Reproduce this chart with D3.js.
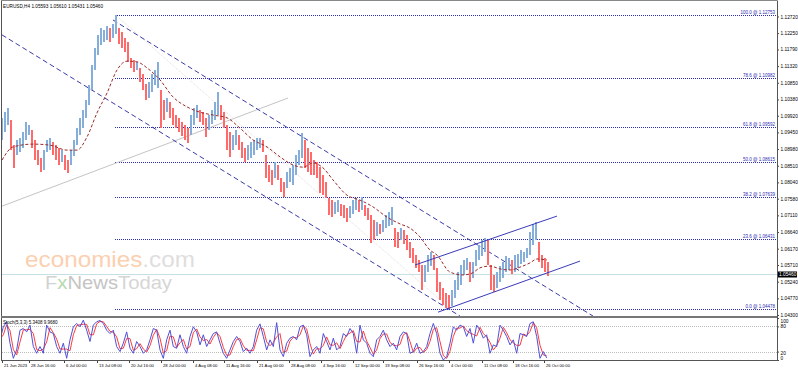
<!DOCTYPE html>
<html><head><meta charset="utf-8">
<script src="https://cdn.jsdelivr.net/npm/d3@7"></script>
<style>
body{margin:0;background:#fff;}
svg{display:block;font-family:"Liberation Sans",Arial,sans-serif;}
</style></head><body>
<svg id="c" width="798" height="372"></svg>
<script>
// ---------- DATA ----------
const chartTitle = "EURUSD,H4  1.05593 1.05610 1.05431 1.05460";
const stochTitle = "Stoch(5,3,3) 5.3408 9.9680";
const barStep = 3; // each entry spans 3 H4 bars
const highs = [
1.0986,1.1003,1.1014,1.0980,1.0909,1.0924,1.0929,1.0946,1.0974,1.0966,
1.0952,1.0924,1.0895,1.0873,1.0895,1.0924,1.0929,1.0918,1.0909,1.0901,
1.0895,1.0881,1.0867,1.0895,1.0924,1.0957,1.0986,1.1008,1.1036,1.1079,
1.1135,1.1183,1.1220,1.1239,1.1234,1.1245,1.1239,1.1251,1.1275,1.1239,
1.1228,1.1211,1.1200,1.1155,1.1149,1.1144,1.1127,1.1110,1.1081,1.1087,
1.1110,1.1121,1.1144,1.1065,1.1036,1.1042,1.1031,1.1014,1.0994,1.0986,
1.0974,1.0966,1.0957,1.0994,1.1014,1.1022,1.1008,1.1003,1.0986,1.0994,
1.1008,1.1031,1.1059,1.1022,1.1003,1.0966,1.0946,1.0938,1.0952,1.0938,
1.0918,1.0901,1.0909,1.0918,1.0924,1.0929,1.0929,1.0924,1.0881,1.0853,
1.0839,1.0861,1.0853,1.0816,1.0805,1.0833,1.0844,1.0853,1.0881,1.0895,
1.0943,1.0924,1.0901,1.0890,1.0867,1.0861,1.0847,1.0825,1.0805,1.0760,
1.0754,1.0749,1.0754,1.0743,1.0740,1.0732,1.0737,1.0754,1.0760,1.0754,
1.0763,1.0740,1.0732,1.0712,1.0698,1.0692,1.0686,1.0698,1.0712,1.0720,
1.0734,1.0675,1.0664,1.0675,1.0670,1.0655,1.0636,1.0619,1.0599,1.0585,
1.0571,1.0571,1.0599,1.0608,1.0599,1.0562,1.0523,1.0506,1.0492,1.0486,
1.0500,1.0529,1.0551,1.0571,1.0585,1.0591,1.0579,1.0579,1.0613,1.0627,
1.0641,1.0647,1.0641,1.0571,1.0543,1.0551,1.0568,1.0579,1.0596,1.0591,
1.0585,1.0599,1.0602,1.0613,1.0608,1.0619,1.0664,1.0686,1.0692,1.0636,
1.0599,1.0591,1.0579];
const lows = [
1.0924,1.0946,1.0966,1.0895,1.0845,1.0881,1.0890,1.0901,1.0924,1.0938,
1.0901,1.0867,1.0853,1.0833,1.0839,1.0890,1.0895,1.0881,1.0867,1.0853,
1.0861,1.0839,1.0830,1.0853,1.0878,1.0909,1.0938,1.0957,1.0986,1.1022,
1.1065,1.1121,1.1163,1.1191,1.1200,1.1206,1.1200,1.1211,1.1222,1.1194,
1.1183,1.1172,1.1144,1.1127,1.1116,1.1121,1.1087,1.1065,1.1036,1.1042,
1.1059,1.1079,1.1070,1.0957,1.0980,1.1003,1.0986,1.0966,1.0957,1.0946,
1.0935,1.0924,1.0915,1.0938,1.0966,1.0986,1.0974,1.0966,1.0932,1.0952,
1.0969,1.0980,1.0994,1.0980,1.0957,1.0895,1.0876,1.0895,1.0909,1.0895,
1.0873,1.0861,1.0867,1.0873,1.0881,1.0895,1.0901,1.0890,1.0816,1.0805,
1.0797,1.0816,1.0811,1.0777,1.0763,1.0788,1.0805,1.0797,1.0825,1.0853,
1.0873,1.0844,1.0833,1.0825,1.0825,1.0816,1.0774,1.0769,1.0760,1.0712,
1.0706,1.0715,1.0720,1.0709,1.0703,1.0692,1.0703,1.0715,1.0726,1.0720,
1.0726,1.0709,1.0698,1.0633,1.0641,1.0653,1.0658,1.0664,1.0675,1.0681,
1.0684,1.0622,1.0619,1.0641,1.0630,1.0613,1.0591,1.0577,1.0562,1.0551,
1.0500,1.0523,1.0551,1.0568,1.0557,1.0495,1.0472,1.0458,1.0450,1.0448,
1.0455,1.0478,1.0500,1.0515,1.0543,1.0557,1.0523,1.0534,1.0568,1.0585,
1.0596,1.0608,1.0571,1.0500,1.0495,1.0506,1.0523,1.0534,1.0551,1.0557,
1.0545,1.0551,1.0562,1.0574,1.0579,1.0591,1.0599,1.0627,1.0641,1.0579,
1.0562,1.0551,1.0540];
const maBars = [0,11,31,48,65,75,85,95,105,115,125,135,145,158,171,185,198,211,225,238,251,265,278,291,301,311,321,331,345,358,371,385,398,408,418,428,435,448,461,470,478,488,498,508,518,528,535,545];
const maValues = [1.0867,1.0904,1.0912,1.0909,1.0895,1.0895,1.0932,1.1000,1.1056,1.1121,1.1146,1.1144,1.1127,1.1093,1.1045,1.1017,1.1002,1.0994,1.0986,1.0957,1.0924,1.0904,1.0876,1.0853,1.0847,1.0859,1.0845,1.0811,1.0768,1.0754,1.0735,1.0706,1.0687,1.0675,1.0650,1.0613,1.0599,1.0551,1.0543,1.0548,1.0563,1.0568,1.0560,1.0557,1.0565,1.0577,1.0588,1.0585];
const stochStep = 10/3; // bars per stochastic sample
const stochK = [48,79,91,40,4,24,71,75,67,83,32,16,32,16,83,67,63,32,16,40,
4,48,79,87,79,95,71,44,83,91,94,87,71,63,71,32,20,40,67,28,
16,44,32,16,24,48,75,71,24,4,48,71,32,28,60,32,16,56,79,67,
36,60,32,48,63,67,40,16,4,24,44,56,44,20,28,16,32,71,86,56,
24,48,32,89,24,8,40,52,56,48,79,83,60,8,24,32,16,63,44,24,
52,24,32,63,56,75,63,16,83,48,40,16,8,48,56,71,48,32,40,24,
56,67,63,16,20,40,16,20,32,63,87,63,16,0,8,40,79,71,83,79,
56,75,40,83,71,52,60,16,36,32,83,71,56,36,48,16,63,60,56,87,
91,56,4,20,5];
const stochD = [50,60,84,70,25,12,43,72,72,73,63,25,22,26,43,77,65,50,26,26,
26,22,60,82,84,85,85,60,60,86,92,91,80,68,66,55,27,28,51,51,
23,27,39,26,19,34,59,73,52,16,22,57,55,30,41,49,26,32,65,74,
55,46,49,38,54,65,56,30,11,12,32,49,51,34,23,23,22,48,77,74,
43,34,42,55,63,18,21,45,54,53,60,81,74,39,14,27,26,35,55,36,
35,41,27,44,60,64,70,44,43,69,45,30,13,24,51,62,62,42,35,34,
37,60,65,44,18,28,30,18,25,44,73,77,44,10,4,21,56,76,76,81,
70,64,61,57,78,63,55,42,24,34,52,78,65,48,41,35,35,62,58,68,
89,77,35,12,10];
const priceTicks = [1.12720,1.12250,1.11790,1.11320,1.10850,1.10380,1.09920,1.09450,1.08980,1.08510,1.08040,1.07580,1.07110,1.06640,1.06170,1.05710,1.05240,1.04770,1.04300];
const stochTicks = [100,80,20,0];
const timeTickBars = [0,27,62,95,127,159,191,222,255,287,319,351,381,415,447,480,511,542];
const timeTickLabels = ["21 Jun 2023","28 Jun 16:00","6 Jul 00:00","13 Jul 08:00","20 Jul 16:00","28 Jul 00:00","4 Aug 08:00","11 Aug 16:00","21 Aug 00:00","28 Aug 08:00","4 Sep 16:00","12 Sep 00:00","19 Sep 08:00","26 Sep 16:00","4 Oct 00:00","11 Oct 08:00","18 Oct 16:00","26 Oct 00:00"];
const fibLevels = [100.0,78.6,61.8,50.0,38.2,23.6,0.0];
const fibPrices = [1.12753,1.10982,1.09592,1.08615,1.07639,1.06431,1.04478];
const fibStartBar = 113;
const fibDiagonal = [[114,1.1275],[448,1.0448]];
const descUpper = [[111,1.1262],[591,1.0427]];
const descLower = [[0,1.1220],[458,1.0427]];
const ascUpper = [[413,1.0571],[555,1.0709]];
const ascLower = [[436,1.0438],[578,1.0582]];
const grayTrend = [[0,1.0737],[286,1.1042]];
const bidPrice = 1.05460;

// ---------- LAYOUT ----------
const svg = d3.select("#c");
const L = 2, R = 777, T = 2, MB = 316, ST = 318, SB = 360;
const x = d3.scaleLinear().domain([0,546]).range([2,548]);
const y = d3.scaleLinear().domain([1.04300,1.12753]).range([315,15.3]);
const ys = d3.scaleLinear().domain([0,100]).range([SB,ST]);

const defs = svg.append("defs");
defs.append("clipPath").attr("id","mainClip").append("rect").attr("x",L).attr("y",T).attr("width",R-L).attr("height",MB-T);
defs.append("clipPath").attr("id","stClip").append("rect").attr("x",L).attr("y",ST).attr("width",R-L).attr("height",SB-ST);

// watermark
const wm = svg.append("g");
const t1 = wm.append("text").attr("x",25).attr("y",267).attr("font-size",22)
  .attr("textLength",170).attr("lengthAdjust","spacingAndGlyphs");
t1.append("tspan").attr("fill","#fbd0b0").text("economies");
t1.append("tspan").attr("fill","#dedede").text(".com");
const t2 = wm.append("text").attr("x",45).attr("y",289).attr("font-size",18.5)
  .attr("textLength",127).attr("lengthAdjust","spacingAndGlyphs");
t2.append("tspan").attr("fill","#d2d2d2").text("F");
t2.append("tspan").attr("fill","#b5d9b0").text("x");
t2.append("tspan").attr("fill","#c4c4c4").text("News");
t2.append("tspan").attr("fill","#d6d6d6").text("Today");

const main = svg.append("g").attr("clip-path","url(#mainClip)");

// fib levels
const fibG = main.append("g");
fibG.selectAll("line").data(fibPrices).join("line")
  .attr("x1",x(fibStartBar)).attr("x2",R).attr("y1",d=>Math.round(y(d))+0.5).attr("y2",d=>Math.round(y(d))+0.5)
  .attr("stroke","#2b2bb3").attr("stroke-width",1).attr("stroke-dasharray","1,1");
fibG.selectAll("text").data(fibPrices).join("text")
  .attr("x",775).attr("y",d=>Math.round(y(d))-0.6).attr("text-anchor","end")
  .attr("font-size",4.5).attr("fill","#2b2bb3")
  .text((d,i)=>fibLevels[i].toFixed(1)+" @ "+d.toFixed(5));

// bid line
main.append("line").attr("x1",L).attr("x2",R).attr("y1",Math.round(y(bidPrice))+0.5).attr("y2",Math.round(y(bidPrice))+0.5)
  .attr("stroke","#c6e0e6").attr("stroke-width",1);

// trend lines
const lineGen = d3.line().x(d=>x(d[0])).y(d=>y(d[1]));
main.append("path").attr("d",lineGen(grayTrend)).attr("stroke","#c4c4c4").attr("stroke-width",1).attr("fill","none");
main.append("path").attr("d",lineGen(fibDiagonal)).attr("stroke","#e6dede").attr("stroke-width",1).attr("fill","none").attr("stroke-dasharray","1,1");
[descUpper, descLower].forEach(s=>{
  main.append("path").attr("d",lineGen(s)).attr("stroke","#3a3aa8").attr("stroke-width",1).attr("fill","none").attr("stroke-dasharray","5,3");
});

// bars
const bars = highs.map((h,i)=>({bar:i*barStep,h,l:lows[i]}));
bars.forEach((d,i)=>{
  const mid=(d.h+d.l)/2, pm = i>0 ? (bars[i-1].h+bars[i-1].l)/2 : mid;
  d.up = mid>=pm;
});
main.append("g").selectAll("rect").data(bars).join("rect")
  .attr("x",d=>Math.round(x(d.bar))-1).attr("width",2)
  .attr("y",d=>y(d.h)).attr("height",d=>Math.max(1,y(d.l)-y(d.h)))
  .attr("fill",d=>d.up?"#86aedb":"#ff6a6a")
  .attr("shape-rendering","crispEdges");

// ascending channel
[ascUpper, ascLower].forEach(s=>{
  main.append("path").attr("d",lineGen(s)).attr("stroke","#3a3ab8").attr("stroke-width",1).attr("fill","none");
});

// MA
main.append("path").datum(maBars.map((b,i)=>[b,maValues[i]]))
  .attr("d",d3.line().x(d=>x(d[0])).y(d=>y(d[1])).curve(d3.curveMonotoneX))
  .attr("stroke","#9b2a2a").attr("stroke-width",1).attr("fill","none").attr("stroke-dasharray","3,2");

// title
svg.append("text").attr("x",3).attr("y",7.5).attr("font-size",4.7).attr("fill","#000").text(chartTitle);

// price axis
const pa = svg.append("g").attr("transform",`translate(${R},0)`)
  .call(d3.axisRight(y).tickValues(priceTicks).tickSize(2).tickPadding(1.5).tickFormat(d3.format(".5f")));
pa.select(".domain").remove();
pa.selectAll("text").attr("font-size",4.8).attr("font-family","'Liberation Sans',Arial,sans-serif").attr("fill","#000");
pa.selectAll("line").attr("stroke","#444");

// bid label
const by = Math.round(y(bidPrice))+0.5;
svg.append("rect").attr("x",R).attr("y",by-3).attr("width",20).attr("height",6).attr("fill","#000");
svg.append("text").attr("x",R+2).attr("y",by+1.8).attr("font-size",4.8).attr("fill","#fff").text(bidPrice.toFixed(5));

// stochastic
const st = svg.append("g").attr("clip-path","url(#stClip)");
[80,20].forEach(v=>{
  st.append("line").attr("x1",L).attr("x2",R).attr("y1",Math.round(ys(v))+0.5).attr("y2",Math.round(ys(v))+0.5)
    .attr("stroke","#bdbdbd").attr("stroke-dasharray","1,1");
});
const sLine = d3.line().x((d,i)=>x(i*stochStep-2)).y(d=>ys(d));
st.append("path").attr("d",sLine(stochD)).attr("stroke","#ff3b3b").attr("stroke-width",1).attr("fill","none");
st.append("path").attr("d",sLine(stochK)).attr("stroke","#5050d8").attr("stroke-width",1).attr("fill","none");
svg.append("text").attr("x",3).attr("y",323.5).attr("font-size",4.5).attr("fill","#000").text(stochTitle);

const sa = svg.append("g").attr("transform",`translate(${R},0)`)
  .call(d3.axisRight(ys).tickValues(stochTicks).tickSize(2).tickPadding(1.5));
sa.select(".domain").remove();
sa.selectAll("line").attr("stroke","#444");
sa.selectAll("text").attr("font-size",4.8).attr("font-family","'Liberation Sans',Arial,sans-serif").attr("fill","#000")
  .attr("dy",d=>d===100?"0.9em":d===0?"-0.2em":d===20?"0.55em":"0.32em");

// time axis
const ta = svg.append("g").attr("transform",`translate(0,${SB})`)
  .call(d3.axisBottom(x).tickValues(timeTickBars).tickSize(3).tickPadding(1).tickFormat((d,i)=>timeTickLabels[i]));
ta.select(".domain").remove();
ta.selectAll("line").attr("stroke","#444");
ta.selectAll("text").attr("text-anchor","start").attr("x",1.5).attr("font-size",4.2)
  .attr("font-family","'Liberation Sans',Arial,sans-serif").attr("fill","#000");

// frames
const fr = svg.append("g").attr("fill","none");
fr.append("line").attr("x1",1.5).attr("x2",1.5).attr("y1",0.5).attr("y2",SB+0.5).attr("stroke","#555");
fr.append("line").attr("x1",1).attr("x2",R).attr("y1",0.5).attr("y2",0.5).attr("stroke","#888");
fr.append("line").attr("x1",R+0.5).attr("x2",R+0.5).attr("y1",0.5).attr("y2",SB+0.5).attr("stroke","#555");
fr.append("rect").attr("x",1).attr("y",MB).attr("width",R-1).attr("height",2).attr("fill","#777").attr("stroke","none");
fr.append("line").attr("x1",1).attr("x2",R+1).attr("y1",SB+0.5).attr("y2",SB+0.5).attr("stroke","#555");
</script>
</body></html>
